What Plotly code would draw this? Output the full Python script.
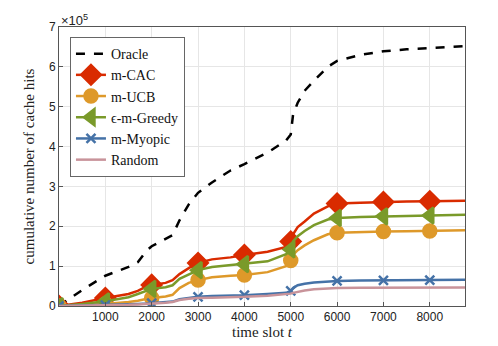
import pandas as pd
import plotly.graph_objects as go

# time slots (hours of a year) and cumulative cache hits (x1e5)
t = [0, 500, 1000, 1500, 1700, 1900, 2000, 2300, 2450, 2600, 2800, 3000, 3300, 3700,
     4000, 4500, 4900, 5000, 5050, 5150, 5300, 5500, 5800, 6000, 6500, 7000, 7500, 8000, 8760]

oracle = [0, 0.40, 0.76, 0.98, 1.10, 1.40, 1.50, 1.68, 1.78, 2.15, 2.55, 2.84, 3.10, 3.40,
          3.56, 3.85, 4.15, 4.30, 4.80, 5.10, 5.40, 5.65, 6.00, 6.15, 6.30, 6.39, 6.44, 6.47, 6.52]
mcac = [0, 0.08, 0.20, 0.30, 0.38, 0.50, 0.53, 0.58, 0.65, 0.80, 0.95, 1.08, 1.17, 1.22,
        1.28, 1.36, 1.48, 1.62, 1.80, 1.98, 2.12, 2.32, 2.50, 2.57, 2.59, 2.61, 2.62, 2.63, 2.64]
mucb = [0, 0.02, 0.05, 0.10, 0.13, 0.18, 0.20, 0.24, 0.28, 0.45, 0.58, 0.65, 0.72, 0.76,
        0.78, 0.85, 1.00, 1.14, 1.28, 1.40, 1.52, 1.65, 1.80, 1.84, 1.86, 1.87, 1.875, 1.88, 1.90]
greedy = [0, 0.05, 0.12, 0.22, 0.30, 0.40, 0.43, 0.47, 0.52, 0.68, 0.80, 0.90, 0.98, 1.03,
          1.05, 1.12, 1.30, 1.42, 1.62, 1.75, 1.88, 2.03, 2.17, 2.21, 2.23, 2.25, 2.26, 2.27, 2.29]
myopic = [0, 0.01, 0.02, 0.04, 0.05, 0.06, 0.07, 0.09, 0.11, 0.17, 0.20, 0.23, 0.25, 0.26,
          0.27, 0.30, 0.33, 0.38, 0.45, 0.52, 0.56, 0.59, 0.62, 0.63, 0.64, 0.64, 0.645, 0.65, 0.66]
rand = [0, 0.005, 0.015, 0.03, 0.04, 0.05, 0.06, 0.08, 0.10, 0.15, 0.18, 0.20, 0.21, 0.22,
        0.23, 0.26, 0.29, 0.31, 0.33, 0.36, 0.39, 0.42, 0.44, 0.45, 0.455, 0.46, 0.46, 0.46, 0.465]

df = pd.DataFrame({'t': t, 'Oracle': oracle, 'm-CAC': mcac, 'm-UCB': mucb,
                   'greedy': greedy, 'm-Myopic': myopic, 'Random': rand})
for c in df.columns[1:]:
    df[c] = df[c] * 1e5
mk = df[(df['t'] % 1000 == 0) & (df['t'] <= 8000)]

serif = 'Liberation Serif'
fig = go.Figure()

fig.add_trace(go.Scatter(x=df['t'], y=df['Oracle'], mode='lines', name='Oracle',
                         line=dict(color='black', width=2.5, dash='dash')))

series = [('m-CAC', 'm-CAC', '#D92B00', 'diamond', 15),
          ('m-UCB', 'm-UCB', '#DE992A', 'circle', 13),
          ('greedy', 'ϵ-m-Greedy', '#7A9A2A', 'triangle-left', 14),
          ('m-Myopic', 'm-Myopic', '#4572A7', 'x-thin', 9)]
for col, name, color, sym, size in series:
    fig.add_trace(go.Scatter(x=df['t'], y=df[col], mode='lines', showlegend=False,
                             line=dict(color=color, width=2.5)))
    fig.add_trace(go.Scatter(x=mk['t'], y=mk[col], mode='markers', showlegend=False,
                             marker=dict(color=color, symbol=sym, size=size,
                                         line=dict(color=color, width=2.5))))
    fig.add_trace(go.Scatter(x=[None], y=[None], mode='lines+markers', name=name,
                             line=dict(color=color, width=2.5),
                             marker=dict(color=color, symbol=sym, size=size,
                                         line=dict(color=color, width=2.5))))

fig.add_trace(go.Scatter(x=df['t'], y=df['Random'], mode='lines', name='Random',
                         line=dict(color='#C8939A', width=2.5)))

fig.update_xaxes(range=[0, 8760], tickvals=[1000, 2000, 3000, 4000, 5000, 6000, 7000, 8000],
                 automargin=False,
                 showgrid=True, gridcolor='#E6E6E6', zeroline=False,
                 showline=True, linecolor='#555', mirror=True, ticks='inside', ticklen=4,
                 tickcolor='#555', tickfont=dict(family='Liberation Sans', size=12, color='#222'),
                 title=dict(text='time slot <i>t</i>', font=dict(family=serif, size=15, color='#222'),
                            standoff=0))
fig.update_yaxes(range=[0, 7e5], tickvals=[i * 1e5 for i in range(8)],
                 ticktext=[str(i) for i in range(8)], automargin=False,
                 showgrid=True, gridcolor='#E6E6E6', zeroline=False,
                 showline=True, linecolor='#555', mirror=True, ticks='inside', ticklen=4,
                 tickcolor='#555', tickfont=dict(family='Liberation Sans', size=12, color='#222'),
                 title=dict(text='cumulative number of cache hits',
                            font=dict(family=serif, size=15, color='#222'), standoff=10))
fig.add_annotation(x=0, y=1, xref='paper', yref='paper', xanchor='left', yanchor='bottom',
                   text='×10<sup>5</sup>', showarrow=False, yshift=-3,
                   font=dict(family='Liberation Sans', size=13, color='#222'))
fig.update_layout(width=498, height=346, margin=dict(l=59, r=33, t=27, b=40),
                  plot_bgcolor='white', paper_bgcolor='white',
                  legend=dict(x=0.027, y=0.964, xanchor='left', yanchor='top',
                              bgcolor='white', bordercolor='#666', borderwidth=1,
                              font=dict(family=serif, size=14, color='#111'),
                              tracegroupgap=0, itemwidth=30))
fig.write_html('out.html', config={'displayModeBar': False},
               post_script="document.body.style.margin='0';")
